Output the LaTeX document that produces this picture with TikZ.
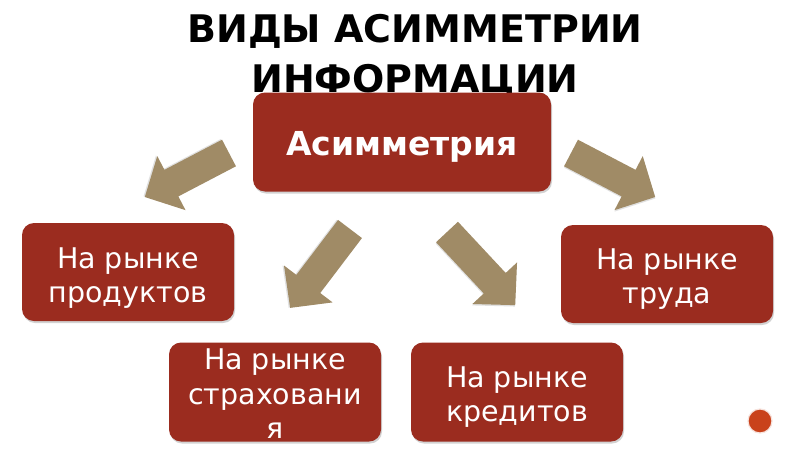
\documentclass[tikz,border=0pt]{standalone}
\usepackage{fontspec}
\setmainfont{DejaVu Sans}
\usetikzlibrary{shadows}
\definecolor{boxred}{HTML}{9B2C1F}
\definecolor{arrowtan}{HTML}{A08B66}
\definecolor{dotred}{HTML}{C9421B}
\tikzset{
  box/.style={fill=boxred, rounded corners=12pt, text=white, align=center,
    font=\fontsize{28.5}{34.5}\selectfont, inner sep=0pt,
    drop shadow={shadow xshift=1pt, shadow yshift=-2pt, fill=black!35, opacity=0.5}},
  boxtext/.style={text=white, align=center, font=\fontsize{28.5}{34.5}\selectfont, inner sep=0pt},
  blockarrow/.pic={
    \fill[black!30, opacity=0.4, shift={(0.8,1.2)}] (0,-15) -- (#1-30,-15) -- (#1-30,-30.5) -- (#1,0) -- (#1-30,30.5) -- (#1-30,15) -- (0,15) -- cycle;
    \fill[arrowtan] (0,-15) -- (#1-30,-15) -- (#1-30,-30.5) -- (#1,0) -- (#1-30,30.5) -- (#1-30,15) -- (0,15) -- cycle;
  }
}
\begin{document}
\begin{tikzpicture}[x=1pt,y=-1pt]
\useasboundingbox (0,0) rectangle (800,450);
\fill[white] (0,0) rectangle (800,450);
% title
\node[font=\fontsize{38}{50}\selectfont\bfseries, anchor=base] (t1) at (415,42) {ВИДЫ АСИММЕТРИИ};
\node[font=\fontsize{38}{50}\selectfont\bfseries, anchor=base] (t2) at (415,92) {ИНФОРМАЦИИ};
% boxes
\node[box, minimum width=298pt, minimum height=99pt] (main) at (402,142) {};
\node[box, minimum width=212pt, minimum height=98pt] (prod) at (128,272) {};
\node[box, minimum width=212pt, minimum height=98pt] (trud) at (667,274) {};
\node[box, minimum width=212pt, minimum height=99pt] (strah) at (275,392) {};
\node[box, minimum width=212pt, minimum height=99pt] (kred) at (517,392) {};
% box texts
\node[boxtext, font=\fontsize{33}{38}\selectfont\bfseries] (mainT) at ([yshift=-5pt]main.center) {Асимметрия};
\node[boxtext] (prodT) at ([yshift=-6pt]prod.center) {На рынке\\продуктов};
\node[boxtext] (trudT) at ([yshift=-5pt]trud.center) {На рынке\\труда};
\node[boxtext] (strahT) at ([yshift=-2pt]strah.center) {На рынке\\страховани\\я};
\node[boxtext] (kredT) at ([yshift=-5pt]kred.center) {На рынке\\кредитов};
% arrows
\coordinate (a1) at (229,153);
\coordinate (a2) at (571,153);
\coordinate (a3) at (350,229);
\coordinate (a4) at (447,232);
\pic[rotate=207.6] at (a1) {blockarrow=95};
\pic[rotate=-27.6] at (a2) {blockarrow=95};
\pic[rotate=232.8] at (a3) {blockarrow=99};
\pic[rotate=-47] at (a4) {blockarrow=100};
% decoration dot
\node[circle, fill=dotred, draw=white!85!dotred, line width=1.2pt, minimum size=24pt, inner sep=0pt] (dot) at (760,421) {};
\end{tikzpicture}
\end{document}
